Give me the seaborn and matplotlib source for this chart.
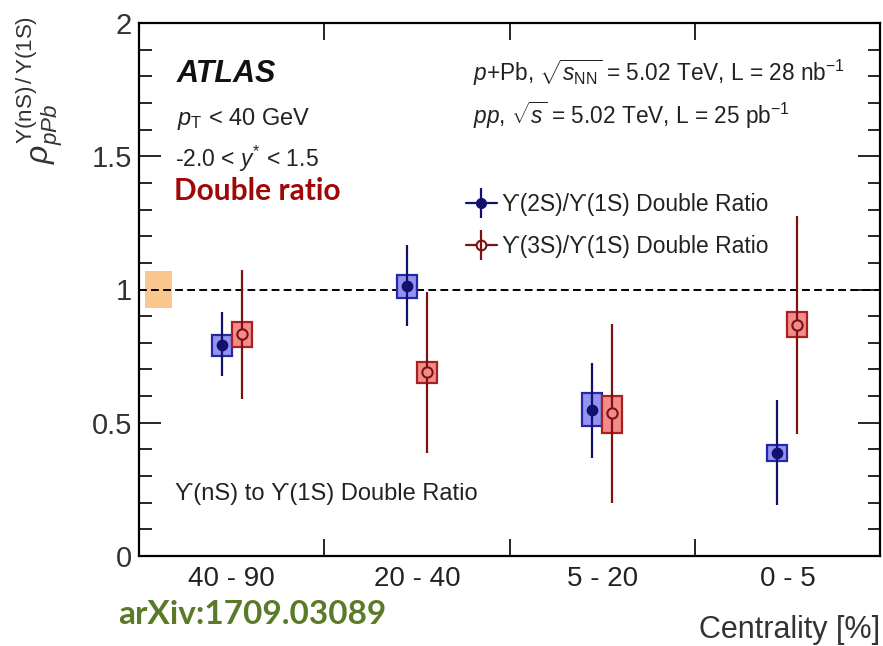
import numpy as np
import pandas as pd
import matplotlib
matplotlib.use("Agg")
import matplotlib.pyplot as plt
from matplotlib.patches import Rectangle
from matplotlib.lines import Line2D
from matplotlib.ticker import MultipleLocator
import seaborn as sns

# ---------------- data ----------------
categories = ["40 - 90", "20 - 40", "5 - 20", "0 - 5"]

r2s = [0.790, 1.015, 0.548, 0.388]
r2s_stat_hi = [0.917, 1.167, 0.723, 0.585]
r2s_stat_lo = [0.674, 0.863, 0.369, 0.191]
r2s_sys_hi = [0.830, 1.054, 0.613, 0.417]
r2s_sys_lo = [0.750, 0.967, 0.488, 0.358]

r3s = [0.833, 0.692, 0.535, 0.867]
r3s_stat_hi = [1.073, 0.992, 0.869, 1.276]
r3s_stat_lo = [0.588, 0.385, 0.200, 0.458]
r3s_sys_hi = [0.879, 0.729, 0.600, 0.915]
r3s_sys_lo = [0.783, 0.650, 0.460, 0.821]

norm_unc = 0.07
yticks = [0, 0.5, 1, 1.5, 2]
ytick_labels = ["0", "0.5", "1", "1.5", "2"]
legend_labels = ["ϒ(2S)/ϒ(1S) Double Ratio", "ϒ(3S)/ϒ(1S) Double Ratio"]

# ---------------- style ----------------
sns.set_theme(style="ticks")
plt.rcParams['font.family'] = ['Liberation Sans', 'DejaVu Sans']
plt.rcParams['mathtext.fontset'] = 'custom'
plt.rcParams['mathtext.rm'] = 'Liberation Sans'
plt.rcParams['mathtext.it'] = 'Liberation Sans:italic'
plt.rcParams['mathtext.bf'] = 'Liberation Sans:bold'
plt.rcParams['axes.unicode_minus'] = False

W, H = 883, 646
fig = plt.figure(figsize=(W / 100, H / 100), dpi=100)
ax = fig.add_axes([139 / W, 90 / H, 741 / W, 533 / H])

navy = '#12126e'
blue_edge = '#2626a6'
blue_face = '#9393f2'
dred = '#7c1212'
red_edge = '#a82020'
red_face = '#f28c8c'

centers = np.arange(len(categories)) + 0.5
off = 0.054
bw = 0.108
x2 = centers - off
x3 = centers + off

# normalization band
ax.add_patch(Rectangle((0.03, 1 - norm_unc), 0.147, 2 * norm_unc,
                       facecolor='#f9c78e', edgecolor='none', zorder=1))
ax.axhline(1.0, color='black', lw=1.4, ls=(0, (4, 2.2)), zorder=1.5)

# systematic boxes
for xs, lo, hi, fc, ec in [(x2, r2s_sys_lo, r2s_sys_hi, blue_face, blue_edge),
                           (x3, r3s_sys_lo, r3s_sys_hi, red_face, red_edge)]:
    for xi, l, h in zip(xs, lo, hi):
        ax.add_patch(Rectangle((xi - bw / 2, l), bw, h - l, facecolor=fc,
                               edgecolor=ec, lw=1.6, zorder=2))

# statistical error bars
ax.errorbar(x2, r2s, yerr=[np.array(r2s) - np.array(r2s_stat_lo),
                           np.array(r2s_stat_hi) - np.array(r2s)],
            fmt='none', ecolor=navy, elinewidth=1.6, capsize=0, zorder=3)
ax.errorbar(x3, r3s, yerr=[np.array(r3s) - np.array(r3s_stat_lo),
                           np.array(r3s_stat_hi) - np.array(r3s)],
            fmt='none', ecolor=dred, elinewidth=1.6, capsize=0, zorder=3)

df2 = pd.DataFrame({'x': x2, 'y': r2s})
df3 = pd.DataFrame({'x': x3, 'y': r3s})
sns.scatterplot(data=df2, x='x', y='y', ax=ax, color=navy, edgecolor=navy,
                s=55, linewidth=1, zorder=5, legend=False)
sns.scatterplot(data=df3, x='x', y='y', ax=ax, color=red_face, edgecolor=dred,
                s=55, linewidth=1.5, zorder=5, legend=False)

ax.set_xlabel('')
ax.set_ylabel('')
ax.set_xlim(0, len(categories))
ax.set_ylim(0, 2)

# ticks
ax.set_xticks(np.arange(1, len(categories)))
ax.set_xticklabels([])
ax.set_xticks(centers, minor=True)
ax.set_xticklabels(categories, minor=True)
ax.tick_params(axis='x', which='major', direction='in', length=12, width=1.4,
               top=True, bottom=True)
ax.tick_params(axis='x', which='minor', length=0, pad=7, labelsize=20,
               labelcolor='#222222')
ax.set_yticks(yticks)
ax.set_yticklabels(ytick_labels)
ax.yaxis.set_minor_locator(MultipleLocator(0.1))
ax.tick_params(axis='y', which='major', direction='in', length=16, width=1.4,
               left=True, right=True, labelsize=21, labelcolor='#333333', pad=5)
ax.tick_params(axis='y', which='minor', direction='in', length=9, width=1.4,
               left=True, right=True)
for sp in ax.spines.values():
    sp.set_linewidth(1.6)
    sp.set_color('black')

# legend
h2 = (Line2D([], [], color=navy, lw=1.6, marker='o', ms=7, mfc=navy, mec=navy),
      Line2D([], [], ls='none', marker='|', ms=22, mew=1.6, color=navy))
h3 = (Line2D([], [], color=dred, lw=1.6, marker='o', ms=7, mfc='white', mec=dred, mew=1.5),
      Line2D([], [], ls='none', marker='|', ms=22, mew=1.6, color=dred))
leg = fig.legend([h2, h3], legend_labels, loc='upper left',
                 bbox_to_anchor=(466 / W, 1 - 193 / H), frameon=False,
                 fontsize=16.5, handlelength=1.35, handletextpad=0.2,
                 borderpad=0, borderaxespad=0, labelspacing=0.85)
for t in leg.get_texts():
    t.set_color('#222222')

def ftxt(x, y, s, **kw):
    fig.text(x / W, 1 - y / H, s, **kw)

ftxt(177, 74, 'ATLAS', fontsize=22, fontweight='bold', fontstyle='italic',
     va='center', color='#111111')
ftxt(177, 119, r'$p_{\rm T}$ < 40 GeV', fontsize=17, va='center', color='#222222')
ftxt(175, 159, r'-2.0 < $y^{*}$ < 1.5', fontsize=16.5, va='center', color='#222222')
ftxt(174, 191, 'Double ratio', fontsize=21.5, va='center', color='#a00808',
     family=['Lato', 'DejaVu Sans'], fontweight='bold')
ftxt(473, 73, r'$p$+Pb, $\sqrt{s_{\rm NN}}$ = 5.02 TeV, L = 28 nb$^{-1}$',
     fontsize=16.3, va='center', color='#222222')
ftxt(473, 115, r'$pp$, $\sqrt{s}$ = 5.02 TeV, L = 25 pb$^{-1}$',
     fontsize=16.3, va='center', color='#222222')
ftxt(175, 494, 'ϒ(nS) to ϒ(1S) Double Ratio', fontsize=17, va='center',
     color='#222222')
ftxt(118, 615, 'arXiv:1709.03089', fontsize=24, va='center', color='#5a7a28',
     family=['Lato', 'DejaVu Sans'], fontweight='bold')
ftxt(880, 630, 'Centrality [%]', fontsize=22, va='center', ha='right',
     color='#333333')
ftxt(40, 16, r'$\rho^{\mathrm{\Upsilon(nS)\,/\,\Upsilon(1S)}}_{pPb}$', fontsize=23,
     rotation=90, ha='center', va='top', color='#333333')

fig.savefig('out.png', dpi=100)
